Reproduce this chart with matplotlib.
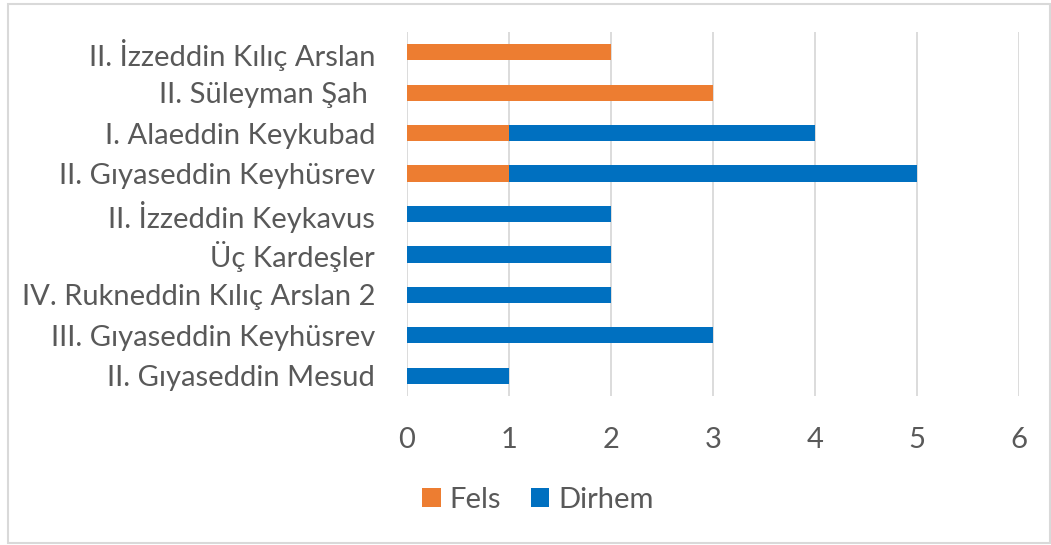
import matplotlib
matplotlib.use("Agg")
import matplotlib.pyplot as plt
from matplotlib.patches import Rectangle

categories = ["II. İzzeddin Kılıç Arslan", "II. Süleyman Şah ", "I. Alaeddin Keykubad",
              "II. Gıyaseddin Keyhüsrev", "II. İzzeddin Keykavus", "Üç Kardeşler",
              "IV. Rukneddin Kılıç Arslan 2", "III. Gıyaseddin Keyhüsrev", "II. Gıyaseddin Mesud"]
fels = [2, 3, 1, 1, 0, 0, 0, 0, 0]
dirhem = [0, 0, 3, 4, 2, 2, 2, 3, 1]
xticks = [0, 1, 2, 3, 4, 5, 6]

plt.rcParams['font.family'] = ['Lato', 'DejaVu Sans']
txt = '#595959'
fs = 21
fig = plt.figure(figsize=(10.51, 5.45), dpi=100)
ax = fig.add_axes([407/1051, 1-396/545, (1019-407)/1051, (396-32)/545])

y = list(range(len(categories)))
ax.barh(y, fels, height=0.4, color='#ED7D31', label='Fels', zorder=3)
ax.barh(y, dirhem, left=fels, height=0.4, color='#0070C0', label='Dirhem', zorder=3)
ax.set_ylim(len(categories)-0.5, -0.5)
ax.set_xlim(0, 6)
ax.set_xticks(xticks)
ax.set_yticks(y)
ax.set_yticklabels(categories, fontsize=fs, color=txt)
ax.tick_params(axis='y', length=0, pad=23)
ax.tick_params(axis='x', length=0, pad=22, labelsize=fs, labelcolor=txt)
ax.grid(axis='x', color='#D9D9D9', linewidth=1.3, zorder=0)
for s in ax.spines.values():
    s.set_visible(False)

fig.legend(loc='center', bbox_to_anchor=(538/1051, 1-500/545), ncol=2, frameon=False,
           fontsize=fs, labelcolor=txt, handlelength=0.62, handleheight=0.62,
           handletextpad=0.3, columnspacing=1.05)
fig.patches.append(Rectangle((8/1051, 2/545), 1-9/1051, 1-6/545, transform=fig.transFigure,
                             fill=False, edgecolor='#D9D9D9', linewidth=1.5))
fig.savefig('out.png', dpi=100)
